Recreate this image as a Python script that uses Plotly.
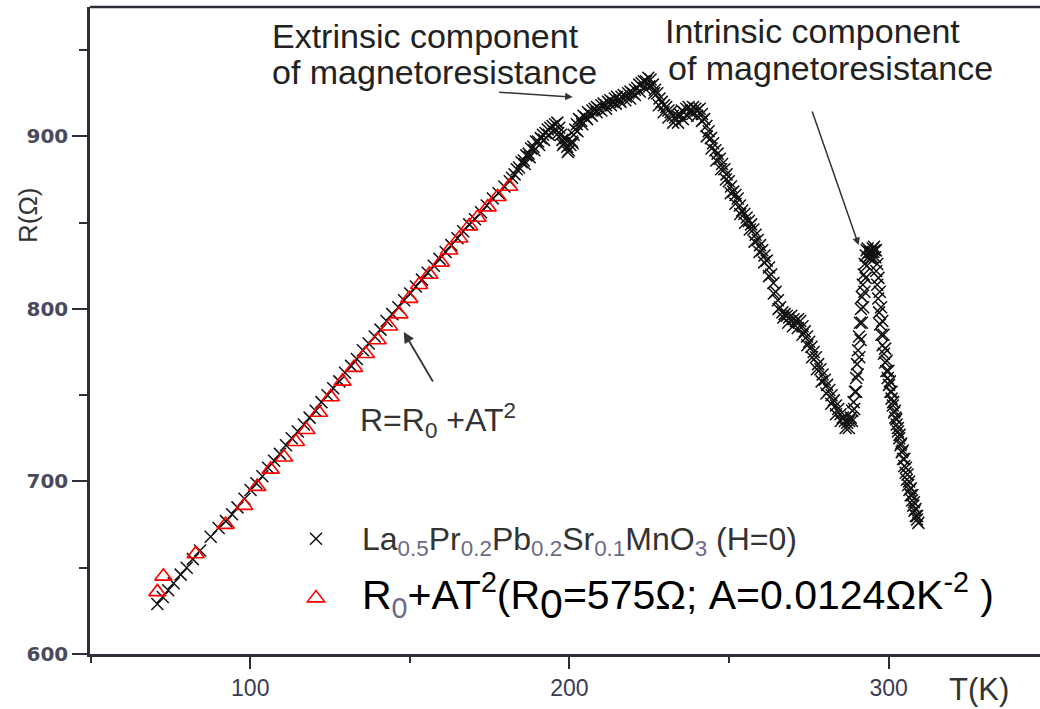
import plotly.graph_objects as go

# ---------------- data ----------------
# first sweep of the measurement
T_meas = [
    70.9, 72.6, 74.3, 76.0, 78.2, 80.1, 82.0, 84.3, 87.6, 90.1, 92.4, 94.3, 96.0, 98.2,
    100.1, 101.9, 103.8, 105.6, 107.5, 109.3, 111.2, 113.0, 114.9, 116.8, 118.6, 120.5,
    122.3, 124.2, 126.0, 127.9, 129.7, 131.6, 133.4, 135.3, 137.1, 139.0, 140.8, 142.7,
    144.5, 146.4, 148.2, 150.1, 151.9, 153.8, 155.6, 157.5, 159.3, 161.2, 163.0, 164.9,
    166.7, 168.6, 170.4, 172.3, 174.1, 176.0, 177.8, 179.6, 181.3,
    182.0, 182.8, 183.5, 184.2, 185.0, 185.7, 186.5, 187.2, 188.0, 188.7, 189.5, 190.2,
    191.0, 191.7, 192.5, 193.2, 194.0, 194.7, 195.5, 196.2,
    196.8, 197.3, 197.8, 198.3, 198.8, 199.3, 199.8, 200.3, 200.8, 201.3, 201.8, 202.3,
    203.0, 203.7, 204.4, 205.1, 205.8, 206.5, 207.2, 207.9, 208.6, 209.3, 210.0, 210.7,
    211.4, 212.1, 212.8, 213.5, 214.2, 214.9, 215.6, 216.3, 217.0, 217.7, 218.4, 219.1,
    219.8, 220.5, 221.2, 221.9, 222.6, 223.3, 224.0, 224.7, 225.4,
    226.1, 226.8, 227.5, 228.2, 228.9, 229.6, 230.3, 231.0, 231.7, 232.4, 233.1, 233.8,
    234.5, 235.2, 235.9, 236.6, 237.3, 238.0, 238.7, 239.4, 240.1, 240.8, 241.5,
    242.2, 242.9, 243.6, 244.3, 245.0, 245.7, 246.4, 247.1, 247.8, 248.5, 249.2, 249.9,
    250.6, 251.3, 252.0, 252.7, 253.4, 254.1, 254.8, 255.5, 256.2, 256.9, 257.6, 258.3,
    259.0, 259.7, 260.4, 261.1, 261.8, 262.5, 263.2, 263.9, 264.6, 265.3, 266.0,
    266.7, 267.4, 268.1, 268.8, 269.5, 270.2, 270.9, 271.6, 272.3, 273.0,
    273.7, 274.4, 275.1, 275.8, 276.5, 277.2, 277.9, 278.6, 279.3, 280.0, 280.7, 281.4,
    282.1, 282.8, 283.5, 284.2, 284.9, 285.6, 286.3, 287.0, 287.6,
    288.1, 288.6, 289.0, 289.4, 289.8, 290.1, 290.4, 290.7, 291.0, 291.3, 291.6, 291.9,
    292.2, 292.5, 292.8, 293.1, 293.4,
    293.8, 294.2, 294.6, 295.0, 295.4, 295.8, 296.1, 296.4, 296.7, 297.0, 297.3, 297.7,
    298.1, 298.5, 298.9, 299.3, 299.7, 300.1, 300.5, 300.9, 301.3, 301.7, 302.1, 302.5,
    302.9, 303.3, 303.7, 304.1, 304.5, 304.9, 305.3, 305.7, 306.1, 306.5, 306.9, 307.3,
    307.7, 308.1, 308.5, 308.9, 309.3,
]
R_meas = [
    629, 633, 637, 641, 646, 650, 655, 660, 668, 673, 677, 681, 685, 690,
    695, 699, 703, 708, 712, 716, 721, 725, 729, 733, 737, 741,
    746, 750, 754, 758, 763, 767, 771, 776, 780, 784, 788, 793,
    797, 801, 805, 809, 813, 817, 821, 825, 829, 833, 837, 841,
    845, 849, 852, 856, 860, 864, 867, 871, 874,
    876, 878, 881, 882, 885, 886, 889, 890, 893, 894, 897, 897,
    899, 901, 902, 904, 905, 906, 907, 908,
    905, 901, 898, 896, 899, 894, 892, 895, 897, 901, 904, 907,
    910, 909, 912, 911, 914, 913, 915, 916, 917, 916, 918, 919,
    918, 920, 921, 920, 922, 923, 921, 923, 924, 923, 925, 926,
    925, 927, 928, 930, 931, 932, 932, 934, 933,
    930, 927, 925, 922, 920, 918, 917, 915, 914, 912, 911, 912,
    913, 915, 914, 916, 917, 915, 917, 916, 915, 916, 913,
    910, 906, 903, 899, 896, 892, 890, 887, 884, 881, 878, 874,
    871, 868, 866, 864, 860, 857, 855, 853, 851, 849, 846, 843,
    840, 837, 834, 831, 828, 824, 820, 815, 810, 805, 801,
    798, 797, 796, 795, 796, 794, 793, 794, 793, 790,
    787, 784, 781, 778, 775, 772, 768, 765, 762, 759, 756, 753,
    750, 747, 744, 742, 739, 737, 735, 734, 735,
    737, 741, 746, 752, 760, 768, 776, 784, 792, 800, 807, 814,
    820, 826, 831, 834, 835,
    833, 831, 833, 835, 836, 830, 822, 814, 806, 798, 791, 785,
    779, 774, 769, 764, 760, 756, 752, 748, 744, 740, 737, 733,
    729, 725, 721, 717, 713, 709, 705, 701, 698, 695, 692, 689,
    686, 683, 680, 678, 676,
]

# second (overlapping) sweep of the measurement above ~185 K
T_meas2 = [
    186.0, 187.5, 189.0, 190.5, 192.0, 193.5, 195.0, 196.5, 198.0, 199.5, 201.0, 202.5,
    204.0, 205.5, 207.0, 208.5, 210.0, 211.5, 213.0, 214.5, 216.0, 217.5, 219.0, 220.5,
    222.0, 223.5, 225.0, 226.5, 228.0, 229.5, 231.0, 232.5, 234.0, 235.5, 237.0, 238.5,
    240.0, 241.5, 243.0, 244.5, 246.0, 247.5, 249.0, 250.5, 252.0, 253.5, 255.0, 256.5,
    258.0, 259.5, 261.0, 262.5, 264.0, 265.5, 267.0, 268.5, 270.0, 271.5, 273.0, 274.5,
    276.0, 277.5, 279.0, 280.5, 282.0, 283.5, 285.0, 286.5, 287.5, 288.5, 289.2, 289.8,
    290.3, 290.8, 291.2, 291.6, 292.0, 292.4, 292.8, 293.2, 293.6, 294.0, 294.4, 294.8,
    295.2, 295.6, 296.0, 296.4, 296.8, 297.2, 297.6, 298.0, 298.4, 298.9, 299.4, 299.9,
    300.4, 300.9, 301.4, 301.9, 302.4, 302.9, 303.4, 303.9, 304.4, 304.9, 305.4, 305.9,
    306.4, 306.9, 307.4, 307.9, 308.4, 308.9,
]
R_meas2 = [
    884, 888, 892, 895, 898, 901, 903, 902, 895, 891, 896, 903,
    907, 910, 912, 914, 915, 916, 918, 919, 920, 921, 922, 924,
    926, 928, 929, 925, 918, 914, 911, 908, 908, 910, 912, 913,
    912, 909, 900, 893, 886, 881, 875, 867, 861, 855, 850, 846,
    839, 833, 827, 819, 809, 800, 795, 792, 790, 789, 785, 779,
    772, 765, 758, 751, 745, 739, 735, 731, 731, 735, 742, 752,
    762, 772, 782, 792, 801, 810, 818, 825, 830, 833, 829, 830,
    833, 834, 834, 826, 818, 810, 801, 793, 785, 777, 770, 764,
    758, 752, 746, 741, 736, 731, 727, 722, 718, 713, 708, 704,
    700, 696, 692, 688, 684, 680,
]

# fit R0 + A T^2 (triangles)
T_fit = [70.9, 72.8, 82.9, 92.3, 98.1, 102.2, 106.4, 110.6, 114.3, 117.6, 121.5, 125.2,
         128.9, 132.5, 136.2, 139.9, 143.5, 146.7, 149.8, 152.9, 156.1, 159.7, 162.3,
         165.5, 168.6, 171.2, 174.4, 177.5, 181.1]
R_fit = [636, 645, 658, 675, 686, 697, 707, 714, 723, 730, 740, 749,
         758, 766, 774, 782, 790, 797, 806, 814, 820, 827, 834,
         841, 848, 853, 859, 865, 871]

x_ticks = [100, 200, 300]
y_ticks = [600, 700, 800, 900]

sub_col = "#6b6a88"
name_meas = ("<span style='font-size:32px;color:#333'>La<sub><span style='color:%s'>0.5</span></sub>"
             "Pr<sub><span style='color:%s'>0.2</span></sub>"
             "Pb<sub><span style='color:%s'>0.2</span></sub>"
             "Sr<sub><span style='color:%s'>0.1</span></sub>"
             "MnO<sub><span style='color:%s'>3</span></sub> (H=0)</span>") % ((sub_col,) * 5)
name_fit = ("<span style='font-size:41px;color:#000'>R<sub><span style='color:%s'>0</span></sub>"
            "+AT<sup>2</sup>(R<sub><span style='font-size:41px'>0</span></sub>=575\u03a9; "
            "A=0.0124\u03a9K<sup>-2</sup> )</span>") % sub_col

fig = go.Figure()
fig.add_trace(go.Scatter(
    x=T_meas + T_meas2, y=R_meas + R_meas2, mode="markers", name=name_meas, legendgroup="a",
    marker=dict(symbol="x-thin", size=12, line=dict(width=1.5, color="#111111"), color="#111111"),
))
fig.add_trace(go.Scatter(
    x=T_fit, y=R_fit, mode="markers", name=name_fit, legendgroup="b",
    marker=dict(symbol="triangle-up-open", size=15, color="#ff0000", line=dict(width=1.6, color="#ff0000")),
))

axis_col = "#2e2e3a"
fig.update_layout(
    width=1040, height=709,
    margin=dict(l=90, r=0, t=7, b=55),
    paper_bgcolor="white", plot_bgcolor="white",
    showlegend=True,
    legend=dict(x=(270 - 90) / 950, y=(654 - 514) / 647, xanchor="left", yanchor="top",
                bgcolor="rgba(0,0,0,0)", font=dict(family="Liberation Sans, Arial", size=28),
                itemwidth=82, tracegroupgap=20, traceorder="grouped", itemsizing="trace"),
    xaxis=dict(range=[49.8, 347.4], showline=True, linewidth=2.5, linecolor=axis_col,
               showgrid=False, zeroline=False, ticks="outside", ticklen=12, tickwidth=2,
               tickcolor=axis_col, tickvals=x_ticks,
               ticktext=[str(v) for v in x_ticks],
               tickfont=dict(family="Liberation Sans, Arial", size=23, color="#3a3a55"),
               minor=dict(dtick=50, tick0=0, ticks="outside", ticklen=6, tickwidth=2, tickcolor=axis_col)),
    yaxis=dict(range=[600, 975], showline=True, linewidth=2.5, linecolor=axis_col,
               showgrid=False, zeroline=False, ticks="outside", ticklen=15, tickwidth=2,
               tickcolor=axis_col, tickvals=y_ticks,
               ticktext=[str(v) for v in y_ticks],
               tickfont=dict(family="DejaVu Sans", size=20, color="#4a4a5e", weight="bold"),
               minor=dict(dtick=50, tick0=0, ticks="outside", ticklen=8, tickwidth=2, tickcolor=axis_col)),
)

# top frame line
fig.add_shape(type="line", xref="paper", yref="paper", x0=0, x1=1, y0=1, y1=1,
              line=dict(color=axis_col, width=2.5))

afont = dict(family="Liberation Sans, Arial", size=34, color="#222")


def text_line(px, py, txt, font):
    fig.add_annotation(xref="paper", yref="paper", x=(px - 90) / 950, y=(654 - py) / 647,
                       xanchor="left", yanchor="middle", align="left", showarrow=False,
                       text=txt, font=font)


text_line(270, 36, "Extrinsic component", afont)
text_line(270, 72, "of magnetoresistance", afont)
text_line(663, 31, "Intrinsic component", afont)
text_line(666, 68, "of magnetoresistance", afont)
text_line(358, 420, "R=R<sub>0</sub> +AT<sup>2</sup>",
          dict(family="Liberation Sans, Arial", size=32, color="#333"))

# arrows
arrow_col = "#333333"
fig.add_annotation(x=201.0, y=922.8, xref="x", yref="y", ax=-75, ay=-5, text="",
                   showarrow=True, arrowhead=2, arrowsize=1, arrowwidth=1.5, arrowcolor=arrow_col)
fig.add_annotation(x=290.6, y=837, xref="x", yref="y", ax=-47, ay=-135, text="",
                   showarrow=True, arrowhead=2, arrowsize=1, arrowwidth=1.5, arrowcolor=arrow_col)
fig.add_annotation(x=148.1, y=786.6, xref="x", yref="y", ax=30, ay=51, text="",
                   showarrow=True, arrowhead=2, arrowsize=1.2, arrowwidth=1.8, arrowcolor=arrow_col)

# axis titles
fig.add_annotation(xref="paper", yref="paper", x=(979 - 90) / 950, y=-(689 - 654) / 647,
                   xanchor="center", yanchor="middle", showarrow=False, text="T(K)",
                   font=dict(family="Liberation Sans, Arial", size=31, color="#333"))
fig.add_annotation(xref="paper", yref="paper", x=-(90 - 28) / 950, y=(654 - 215) / 647,
                   xanchor="center", yanchor="middle", showarrow=False, text="R(\u03a9)",
                   textangle=-90, font=dict(family="Liberation Sans, Arial", size=26, color="#333"))

fig.write_html("out.html")
